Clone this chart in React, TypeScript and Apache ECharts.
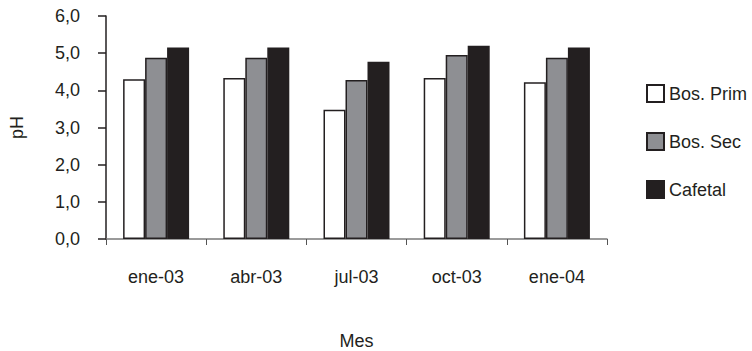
import React, { useEffect, useRef } from "react";
import * as echarts from "echarts";

const categories = ["ene-03", "abr-03", "jul-03", "oct-03", "ene-04"];
const bosPrim = [4.3, 4.33, 3.48, 4.33, 4.22];
const bosSec = [4.88, 4.88, 4.28, 4.95, 4.88];
const cafetal = [5.15, 5.15, 4.77, 5.2, 5.15];
const seriesNames = ["Bos. Prim", "Bos. Sec", "Cafetal"];

const TXT = "#231f20";
const FONT = "Liberation Sans, Arial, Helvetica, sans-serif";

export default function App() {
  const ref = useRef<HTMLDivElement>(null);
  useEffect(() => {
    if (!ref.current) return;
    const chart = echarts.init(ref.current, undefined, { renderer: "svg" });
    const mk = (name: string, data: number[], color: string) => ({
      name,
      type: "bar",
      data,
      barWidth: 22,
      barGap: "0%",
      itemStyle: { color, borderColor: TXT, borderWidth: 1.5 },
    });
    chart.setOption({
      animation: false,
      backgroundColor: "#ffffff",
      textStyle: { fontFamily: FONT, color: TXT },
      grid: { left: 106, right: 145, top: 16, bottom: 112, containLabel: false, outerBoundsMode: "none" },
      legend: {
        orient: "vertical",
        left: 641,
        top: 79,
        itemWidth: 17,
        itemHeight: 17,
        itemGap: 29,
        icon: "rect",
        textStyle: { fontSize: 18, color: TXT, fontFamily: FONT },
        data: seriesNames,
      },
      xAxis: {
        type: "category",
        data: categories,
        name: "Mes",
        nameLocation: "middle",
        nameGap: 93,
        nameTextStyle: { fontSize: 18, color: TXT, fontFamily: FONT },
        axisLine: { lineStyle: { color: "#7a7a7a", width: 1.5 } },
        axisTick: { show: true, length: 6, alignWithLabel: false, lineStyle: { color: "#555", width: 1 } },
        axisLabel: { fontSize: 18, color: TXT, margin: 29, fontFamily: FONT },
      },
      yAxis: {
        type: "value",
        min: 0,
        max: 6,
        interval: 1,
        name: "pH",
        nameLocation: "middle",
        nameGap: 80,
        nameRotate: 90,
        nameTextStyle: { fontSize: 18, color: TXT, fontFamily: FONT },
        splitLine: { show: false },
        axisLine: { show: true, lineStyle: { color: TXT, width: 1.5 } },
        axisTick: { show: true, length: 8, lineStyle: { color: TXT, width: 1.5 } },
        axisLabel: {
          fontSize: 18,
          color: TXT,
          margin: 26,
          fontFamily: FONT,
          formatter: (v: number) => v.toFixed(1).replace(".", ","),
        },
      },
      series: [
        mk(seriesNames[0], bosPrim, "#ffffff"),
        mk(seriesNames[1], bosSec, "#8e8f93"),
        mk(seriesNames[2], cafetal, TXT),
      ],
    });
    return () => chart.dispose();
  }, []);
  return <div ref={ref} style={{ width: 752, height: 351, position: "absolute", left: 0, top: 0 }} />;
}
